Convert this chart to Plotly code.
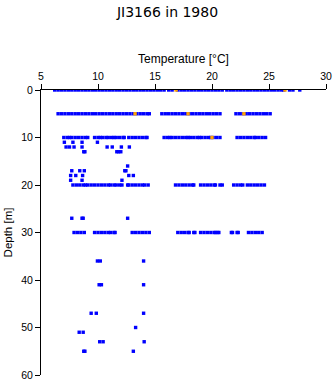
import plotly.graph_objects as go

# Temperature readings (°C) grouped by depth (m)
t_0 = [6.2,6.5,6.8,7.1,7.4,7.7,8.0,8.3,8.6,8.9,9.2,9.5,9.8,10.1,10.4,10.7,11.0,11.3,11.6,11.9,
       12.2,12.5,12.8,13.1,13.4,13.7,14.0,14.3,14.6,14.9,15.2,15.5,15.8,16.2,16.5,17.0,17.3,17.6,
       17.9,18.2,18.5,18.8,19.1,19.4,19.7,20.0,20.3,20.6,20.9,21.3,21.6,21.9,22.2,22.5,22.8,23.1,
       23.4,23.7,24.0,24.3,24.6,24.9,25.2,25.5,25.8,26.1,26.3,26.8,27.1,27.7]
t_5 = [6.5,6.8,7.1,7.4,7.7,8.0,8.3,8.6,8.9,9.2,9.5,9.8,10.1,10.4,10.7,11.0,11.3,11.6,11.9,12.2,
       12.5,12.8,13.1,13.4,13.7,14.0,14.3,14.5,15.6,15.9,16.2,16.5,16.8,17.1,17.4,17.7,18.0,18.3,
       18.6,18.9,19.2,19.5,19.8,20.1,20.4,20.7,22.1,22.4,22.7,23.0,23.3,23.6,23.9,24.2,24.5,24.8,25.1]
t_10 = [7.0,7.3,7.5,7.7,8.0,8.3,8.6,8.9,9.1,9.7,10.0,10.2,10.4,10.7,10.9,11.2,11.4,11.6,11.9,12.2,
        12.3,12.7,13.0,13.3,13.6,13.9,14.2,14.3,15.8,16.1,16.3,16.5,16.8,17.1,17.4,17.7,17.9,18.1,
        18.4,18.7,18.9,19.1,19.4,19.7,19.9,20.1,20.4,20.7,22.2,22.5,22.8,23.1,23.4,23.7,23.8,24.1,
        24.4,24.7]
t_11 = [7.05, 7.8, 8.6, 9.95]
t_12 = [7.2, 7.5, 7.9, 8.6, 10.8, 11.25, 12.05, 12.75]
t_13 = [8.75, 8.85, 11.65, 11.8, 12.0]
t_16 = [12.6]
t_17 = [7.7, 8.4, 8.8, 12.35, 12.45]
t_18 = [7.6, 8.05, 8.65, 12.7, 13.1]
t_19 = [7.6, 8.6, 12.1]
t_20 = [7.8,8.1,8.4,8.7,8.9,9.1,9.4,9.7,10.0,10.3,10.6,10.9,11.1,11.4,11.6,11.9,12.1,12.6,12.7,
        13.0,13.3,13.6,13.9,14.1,14.4,16.8,17.1,17.4,17.7,18.0,18.3,18.4,19.0,19.3,19.6,19.9,20.2,
        20.3,20.7,20.9,21.9,22.2,22.5,22.7,23.1,23.4,23.7,24.0,24.3,24.6]
t_27 = [7.7, 8.6, 8.7, 12.6]
t_30 = [7.9,8.2,8.5,8.8,9.7,10.0,10.3,10.6,10.9,11.1,11.4,11.5,13.0,13.3,13.6,13.9,14.2,14.5,
        17.0,17.3,17.6,17.9,18.0,18.4,18.5,19.0,19.3,19.6,19.9,20.2,20.3,20.5,20.6,21.7,21.8,
        22.2,22.3,23.2,23.5,23.8,24.1,24.4]
t_36 = [9.95, 10.2, 14.0]
t_41 = [10.1, 10.3, 14.0]
t_47 = [9.4, 9.85, 14.0]
t_50 = [13.3]
t_51 = [8.35, 8.7]
t_53 = [10.15, 10.45, 14.05]
t_55 = [8.75, 8.85, 13.1]

# Highlighted (orange) readings
orange_temps = [16.85, 26.4, 13.25, 17.9, 22.8, 20.0]
orange_depths = [0, 0, 5, 5, 5, 10]

depth_groups = {0: t_0, 5: t_5, 10: t_10, 11: t_11, 12: t_12, 13: t_13, 16: t_16, 17: t_17,
                18: t_18, 19: t_19, 20: t_20, 27: t_27, 30: t_30, 36: t_36, 41: t_41,
                47: t_47, 50: t_50, 51: t_51, 53: t_53, 55: t_55}

bx, by = [], []
for d, temps in depth_groups.items():
    bx.extend(temps)
    by.extend([d] * len(temps))

font = "Liberation Sans, Arial, sans-serif"

fig = go.Figure()
fig.add_trace(go.Scatter(x=bx, y=by, mode="markers",
                         marker=dict(symbol="square", size=3.4, color="#0000ff", line=dict(width=0)),
                         showlegend=False, hoverinfo="x+y"))
fig.add_trace(go.Scatter(x=orange_temps, y=orange_depths, mode="markers",
                         marker=dict(symbol="square", size=3.4, color="#ffa500", line=dict(width=0)),
                         showlegend=False, hoverinfo="x+y"))

fig.update_layout(
    width=335, height=384,
    margin=dict(l=41, r=9, t=90, b=9),
    paper_bgcolor="white", plot_bgcolor="white",
    font=dict(family=font, size=10, color="black"),
    title=dict(text="JI3166 in 1980", x=0.5, xanchor="center", y=0.968, yanchor="middle",
               font=dict(family="DejaVu Sans, sans-serif", size=14, color="black")),
    xaxis=dict(side="top", range=[5, 30], tickvals=[5, 10, 15, 20, 25, 30],
               showline=True, linecolor="black", linewidth=1, mirror=False, automargin=False,
               ticks="outside", ticklen=5, tickcolor="black", showgrid=False, zeroline=False,
               tickfont=dict(size=10.5),
               title=dict(text="Temperature [°C]", font=dict(size=12), standoff=3)),
    yaxis=dict(range=[60, 0], tickvals=[0, 10, 20, 30, 40, 50, 60], automargin=False,
               showline=True, linecolor="black", linewidth=1,
               ticks="outside", ticklen=5, tickcolor="black", showgrid=False, zeroline=False,
               tickfont=dict(size=10.5),
               title=dict(text="Depth [m]", font=dict(size=11.5), standoff=6)),
)

fig.write_html("out.html")
